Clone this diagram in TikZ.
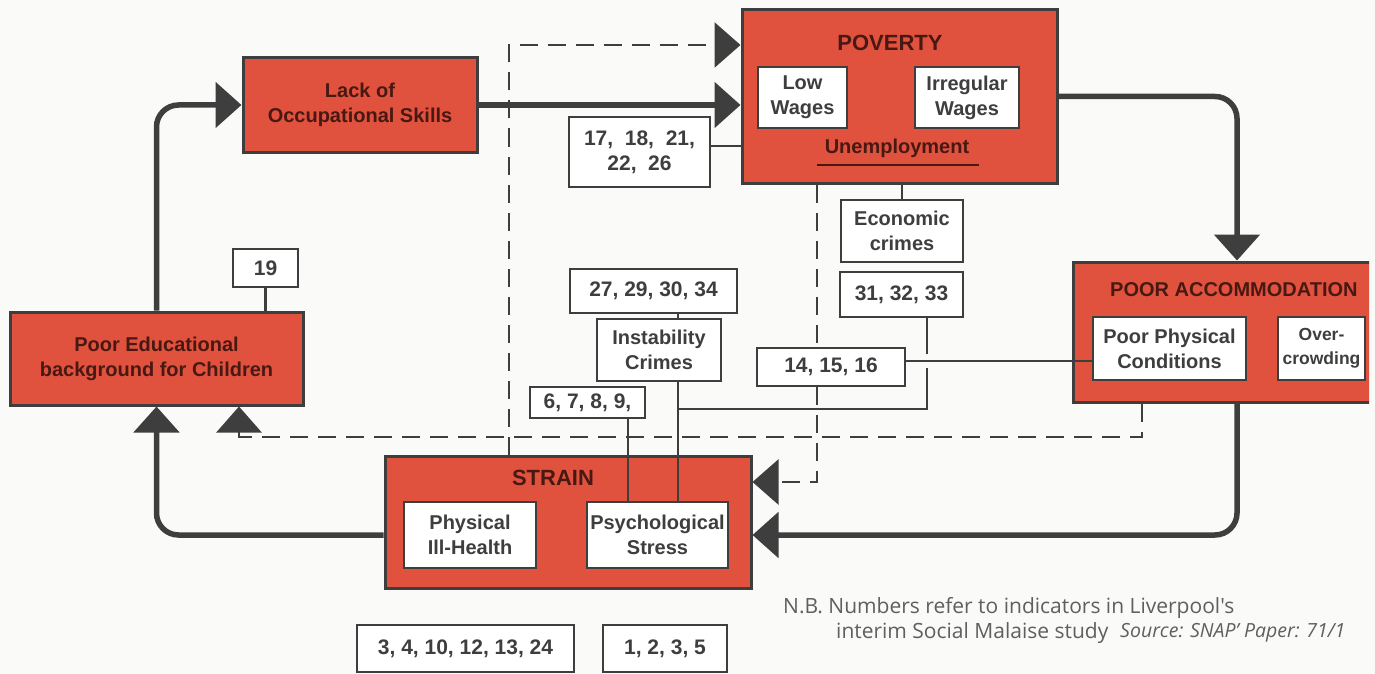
\documentclass[tikz,border=0pt]{standalone}
\usepackage{fontspec}
\setmainfont{Liberation Sans}
\newfontfamily\nbfont{Open Sans}
\usetikzlibrary{arrows.meta}
\definecolor{boxred}{RGB}{224,82,62}
\definecolor{ink}{RGB}{62,62,62}
\definecolor{redtext}{RGB}{72,24,18}
\definecolor{paper}{RGB}{250,250,248}
\definecolor{nbgrey}{RGB}{95,95,95}
\begin{document}
\begin{tikzpicture}[x=1pt,y=-1pt,
  redbox/.style={draw=ink,line width=3pt,fill=boxred,inner sep=0pt,align=center,text=redtext,font=\bfseries\fontsize{20}{25}\selectfont},
  whitebox/.style={draw=ink,line width=2.5pt,fill=white,inner sep=0pt,align=center,text=ink,font=\bfseries\fontsize{20}{25}\selectfont},
  numbox/.style={draw=ink,line width=2.5pt,fill=white,inner sep=0pt,align=center,text=ink,font=\bfseries\fontsize{21}{25}\selectfont},
  boxtitle/.style={text=redtext,font=\bfseries\fontsize{22}{26}\selectfont,inner sep=0pt},
  flow/.style={draw=ink,line width=5.5pt,rounded corners=22pt,-{Triangle[length=26pt,width=45pt]}},
  dflow/.style={draw=ink,line width=2.8pt,dash pattern=on 18pt off 10pt,-{Triangle[length=26pt,width=45pt]}},
  dline/.style={draw=ink,line width=2.8pt,dash pattern=on 18pt off 10pt},
  link/.style={draw=ink,line width=2.5pt},
  nbtext/.style={text=nbgrey,font=\nbfont\fontsize{21}{25}\selectfont,inner sep=0pt,anchor=west}
]
\useasboundingbox (0,0) rectangle (1375,674);
\fill[paper] (0,0) rectangle (1375,674);
\begin{scope}
\clip (0,0) rectangle (1369,674);

% helper coordinates
\coordinate (d1) at (509,45);
\coordinate (d2) at (1142,437);
\coordinate (d3) at (239,437);
\coordinate (d4) at (817,482);
\coordinate (a1) at (1237,0);
\coordinate (c5) at (0,535);
\coordinate (k1) at (0,146);
\coordinate (v1) at (678,0);
\coordinate (v2) at (927,409);
\coordinate (v3) at (628,0);
\coordinate (g1) at (0,354);
\coordinate (g2) at (0,368);
\coordinate (h1) at (0,361);

% red boxes
\node[redbox,minimum width=234pt,minimum height=94pt] (lack) at (360,105) {Lack of\\Occupational Skills};
\node[redbox,minimum width=315pt,minimum height=173pt] (poverty) at (899.5,96.5) {};
\node[redbox,minimum width=347pt,minimum height=140pt] (accom) at (1246.5,332) {};
\node[redbox,minimum width=293pt,minimum height=93pt] (poored) at (156.5,358.5) {Poor Educational\\background for Children};
\node[redbox,minimum width=366pt,minimum height=132pt] (strain) at (568,522) {};

% titles
\node[boxtitle] (povt) at (890,43) {POVERTY};
\node[boxtitle,anchor=west,font=\bfseries\fontsize{20}{24}\selectfont] (accomt) at (1110,290) {POOR ACCOMMODATION};
\node[boxtitle] (straint) at (553,478) {STRAIN};
\node[text=redtext,font=\bfseries\fontsize{20}{25}\selectfont,inner sep=0pt] (unemp) at (897,148) {Unemployment};
\draw[draw=redtext,line width=2.5pt] (817,165) -- (979,165);

% inner white boxes
\node[whitebox,minimum width=89pt,minimum height=61pt] (low) at (802.5,97.5) {Low\\Wages};
\node[whitebox,minimum width=104pt,minimum height=61pt] (irreg) at (967,97.5) {Irregular\\Wages};
\node[whitebox,minimum width=153pt,minimum height=63pt] (poorphys) at (1169.5,348.5) {Poor Physical\\Conditions};
\node[whitebox,minimum width=87pt,minimum height=63pt,font=\bfseries\fontsize{17.5}{24}\selectfont] (overc) at (1321.5,348.5) {Over-\\crowding};
\node[whitebox,minimum width=132pt,minimum height=66pt] (physill) at (470,535) {Physical\\Ill-Health};
\node[whitebox,minimum width=141pt,minimum height=66pt] (psych) at (657.5,535) {Psychological\\Stress};
\node[whitebox,minimum width=122pt,minimum height=62pt] (econ) at (902,231) {Economic\\crimes};
\node[whitebox,minimum width=124pt,minimum height=62pt] (instab) at (659,350) {Instability\\Crimes};

% number boxes
\node[numbox,minimum width=141pt,minimum height=70pt] (n17) at (639.5,152) {17,\ \ 18,\ \ 21,\\22,\ \ 26};
\node[numbox,minimum width=123pt,minimum height=45pt] (n31) at (901.5,294.5) {31, 32, 33};
\node[numbox,minimum width=167pt,minimum height=44pt] (n27) at (653.5,291) {27, 29, 30, 34};
\node[numbox,minimum width=115pt,minimum height=31pt] (n6) at (587.5,402.5) {6, 7, 8, 9,};
\node[numbox,minimum width=148pt,minimum height=38pt] (n14) at (831,367) {14, 15, 16};
\node[numbox,minimum width=65pt,minimum height=38pt] (n19) at (265.5,268) {19};
\node[numbox,minimum width=217pt,minimum height=47pt] (n3) at (465.5,648.5) {3, 4, 10, 12, 13, 24};
\node[numbox,minimum width=124pt,minimum height=47pt] (n1) at (665,648.5) {1, 2, 3, 5};

% thick flows
\draw[flow] (poored.north) |- (lack.west);
\draw[flow] (lack.east) -- (lack.east -| poverty.west);
\draw[flow] (poverty.east) -| (a1 |- accom.north);
\draw[flow] (accom.south -| a1) |- (strain.east |- c5);
\draw[flow] (strain.west |- c5) -| (poored.south);

% dashed flows
\draw[dflow] (strain.north -| d1) -- (d1) -- (poverty.west |- d1);
\draw[dflow] (accom.south -| d2) -- (d2) -- (d3) -- (poored.south -| d3);
\draw[dline] (poverty.south -| d4) -- (n14.north -| d4);
\draw[dflow] (n14.south -| d4) -- (d4) -- (strain.east |- d4);

% thin links
\draw[link] (n17.east |- k1) -- (poverty.west |- k1);
\draw[link] (econ.north |- poverty.south) -- (econ.north);
\draw[link] (n27.south -| v1) -- (instab.north -| v1);
\draw[link] (instab.south -| v1) -- (psych.north -| v1);
\draw[link] (n6.south -| v3) -- (psych.north -| v3);
\draw[link] (n31.south -| v2) -- (v2 |- g1);
\draw[link] (v2 |- g2) -- (v2) -- (v2 -| v1);
\draw[link] (n14.east |- h1) -- (poorphys.west |- h1);
\draw[link] (n19.south) -- (n19.south |- poored.north);

% note
\node[nbtext] (nb1) at (783,608) {N.B. Numbers refer to indicators in Liverpool's};
\node[nbtext] (nb2) at (836,633) {interim Social Malaise study};
\node[nbtext,font=\nbfont\fontsize{19.5}{24}\selectfont] (nb3) at (1120,633) {\itshape Source: SNAP\textquoteright\ Paper: 71/1};
\end{scope}
\end{tikzpicture}
\end{document}
